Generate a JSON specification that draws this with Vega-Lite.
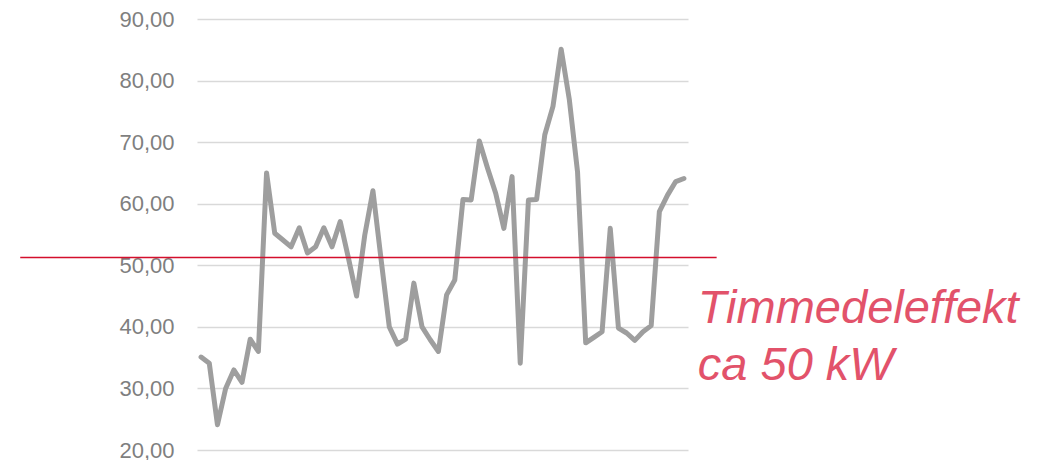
{
  "$schema": "https://vega.github.io/schema/vega-lite/v6.json",
  "width": 491,
  "height": 431,
  "autosize": {"type": "none"},
  "padding": {"left": 197, "top": 19, "right": 360, "bottom": 10},
  "background": "white",
  "config": {"view": {"stroke": null}},
  "layer": [
    {
      "data": {"values": [
        {"i": 1, "v": 35.1}, {"i": 2, "v": 34.1}, {"i": 3, "v": 24.1}, {"i": 4, "v": 30.0},
        {"i": 5, "v": 33.0}, {"i": 6, "v": 31.0}, {"i": 7, "v": 38.0}, {"i": 8, "v": 36.0},
        {"i": 9, "v": 65.0}, {"i": 10, "v": 55.2}, {"i": 11, "v": 54.1}, {"i": 12, "v": 53.0},
        {"i": 13, "v": 56.1}, {"i": 14, "v": 52.0}, {"i": 15, "v": 53.0}, {"i": 16, "v": 56.1},
        {"i": 17, "v": 53.0}, {"i": 18, "v": 57.1}, {"i": 19, "v": 51.2}, {"i": 20, "v": 45.0},
        {"i": 21, "v": 54.9}, {"i": 22, "v": 62.1}, {"i": 23, "v": 50.9}, {"i": 24, "v": 40.0},
        {"i": 25, "v": 37.2}, {"i": 26, "v": 38.0}, {"i": 27, "v": 47.1}, {"i": 28, "v": 40.0},
        {"i": 29, "v": 37.9}, {"i": 30, "v": 36.0}, {"i": 31, "v": 45.2}, {"i": 32, "v": 47.6},
        {"i": 33, "v": 60.7}, {"i": 34, "v": 60.6}, {"i": 35, "v": 70.2}, {"i": 36, "v": 65.8},
        {"i": 37, "v": 61.7}, {"i": 38, "v": 56.0}, {"i": 39, "v": 64.4}, {"i": 40, "v": 34.1},
        {"i": 41, "v": 60.6}, {"i": 42, "v": 60.7}, {"i": 43, "v": 71.2}, {"i": 44, "v": 75.8},
        {"i": 45, "v": 85.1}, {"i": 46, "v": 76.9}, {"i": 47, "v": 65.2}, {"i": 48, "v": 37.4},
        {"i": 49, "v": 38.3}, {"i": 50, "v": 39.2}, {"i": 51, "v": 56.0}, {"i": 52, "v": 39.8},
        {"i": 53, "v": 39.0}, {"i": 54, "v": 37.8}, {"i": 55, "v": 39.2}, {"i": 56, "v": 40.2},
        {"i": 57, "v": 58.7}, {"i": 58, "v": 61.4}, {"i": 59, "v": 63.6}, {"i": 60, "v": 64.1}
      ]},
      "mark": {"type": "line", "color": "#9e9e9e", "strokeWidth": 5, "strokeJoin": "round", "strokeCap": "round"},
      "encoding": {
        "x": {"field": "i", "type": "quantitative", "scale": {"domain": [0.5, 60.5], "nice": false, "zero": false}, "axis": null},
        "y": {
          "field": "v", "type": "quantitative",
          "scale": {"domain": [20, 90], "nice": false, "zero": false},
          "axis": {
            "title": null, "values": [20, 30, 40, 50, 60, 70, 80, 90],
            "domain": false, "ticks": false, "labelPadding": 23,
            "labelFont": "Liberation Sans", "labelFontSize": 22, "labelColor": "#7f7f7f",
            "labelExpr": "replace(format(datum.value, '.2f'), '.', ',')",
            "gridColor": "#d9d9d9", "gridWidth": 1.5
          }
        }
      }
    },
    {
      "data": {"values": [{"x1": -21.1, "x2": 64.0, "y": 51.25}]},
      "mark": {"type": "rule", "color": "#d40f2c", "strokeWidth": 1.5},
      "encoding": {
        "x": {"field": "x1", "type": "quantitative"},
        "x2": {"field": "x2"},
        "y": {"field": "y", "type": "quantitative"}
      }
    },
    {
      "data": {"values": [{"x": 61.7, "y": 40.6, "label": ["Timmedeleffekt", "ca 50 kW"]}]},
      "mark": {"type": "text", "align": "left", "baseline": "alphabetic", "font": "Liberation Sans", "fontStyle": "italic", "fontSize": 47, "lineHeight": 57, "color": "#e2526a"},
      "encoding": {
        "x": {"field": "x", "type": "quantitative"},
        "y": {"field": "y", "type": "quantitative"},
        "text": {"field": "label"}
      }
    }
  ]
}
